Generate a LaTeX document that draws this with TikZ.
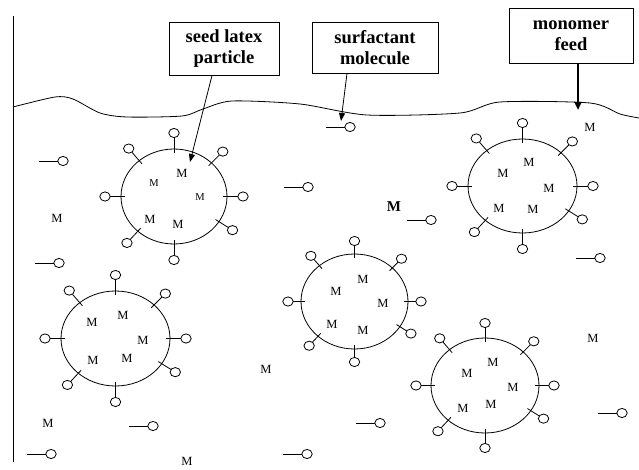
\documentclass[tikz,border=0pt]{standalone}
\usepackage{fontspec}
\setmainfont{Liberation Serif}
\usetikzlibrary{arrows.meta,calc}

% a seed latex particle: outline plus eight surfactant molecules
% #1 centre, #2 x radius, #3 y radius, #4 distance of the heads from the outline
\newcommand{\latexparticle}[4]{%
  \begin{scope}[shift={#1}]
    \draw (0,0) ellipse [x radius=#2, y radius=#3];
    \foreach \a in {90,45,0,-32,-90,-133,180,131}{
      \draw ({(#2-4)*cos(\a)},{-(#3-4)*sin(\a)}) --
            ({(#2+#4-5)*cos(\a)},{-(#3+#4-5)*sin(\a)});
      \draw ({(#2+#4)*cos(\a)},{-(#3+#4)*sin(\a)}) ellipse [x radius=5.2, y radius=4.6];
    }
  \end{scope}}

% a free surfactant molecule, head at (#1,#2), tail to the left
\newcommand{\freesurf}[2]{%
  \draw ({#1-24},{#2}) -- ({#1-5.2},{#2});
  \draw ({#1},{#2}) ellipse [x radius=5.2, y radius=4.6];}

\begin{document}
\begin{tikzpicture}[x=1pt,y=-1pt,line width=0.8pt,
  labelbox/.style={draw, line width=0.9pt, align=center, inner sep=0pt,
    font=\fontsize{18.5}{21.5}\selectfont\bfseries},
  mono/.style={inner sep=0pt, font=\fontsize{12.5}{14}\selectfont},
  monosmall/.style={inner sep=0pt, font=\fontsize{10.5}{12}\selectfont},
  monobold/.style={inner sep=0pt, font=\fontsize{15}{17}\selectfont\bfseries},
  pointer/.style={-{Triangle[length=8pt,width=6pt]}, line width=0.8pt},
  feedarrow/.style={-{Triangle[length=8pt,width=7pt]}, line width=2.3pt}]
\useasboundingbox (0,0) rectangle (639,470);

% reactor wall and liquid surface
\draw (13,16) -- (13,462);
\draw plot[smooth, tension=0.45] coordinates {(13,107) (55,97) (73,99) (100,113)
  (127,117) (182,116) (203,109) (232,101) (300,104) (367,115) (460,113)
  (500,102) (590,103) (620,114) (639,118)};

% labels
\node[labelbox, minimum width=110, minimum height=53] (seed) at (224,48.5) {seed latex\\particle};
\node[labelbox, minimum width=126, minimum height=51] (surf) at (375,47.5) {surfactant\\molecule};
\node[labelbox, minimum width=124, minimum height=55] (feed) at (571,35.5) {monomer\\feed};

\coordinate (seedtip) at (190,162);
\coordinate (surftip) at (341,121);
\coordinate (feedtip) at (578,110);
\draw[pointer] ($(seed.south)+(-12,0)$) -- (seedtip);
\draw[pointer] ($(surf.south)+(-28,0)$) -- (surftip);
\draw[feedarrow] (feedtip |- feed.south) -- (feedtip);

% particles
\latexparticle{(174,196.5)}{53}{47.5}{16}
\latexparticle{(522.5,186)}{54.5}{47}{16}
\latexparticle{(115.5,338.5)}{54.5}{47.5}{16}
\latexparticle{(354.5,301.5)}{53.5}{47.5}{13}
\latexparticle{(485,385.5)}{54}{47.5}{15}

% free surfactant molecules
\freesurf{350}{127}
\freesurf{63}{161}
\freesurf{308}{187}
\freesurf{431}{220}
\freesurf{600}{258}
\freesurf{59}{263}
\freesurf{622}{413}
\freesurf{380}{423}
\freesurf{153}{426}
\freesurf{51}{454}
\freesurf{307}{454}

% free monomer
\node[mono] (fm1) at (590,127) {M};
\node[mono] (fm2) at (57,218) {M};
\node[monobold] (fm3) at (394,207) {M};
\node[mono] (fm4) at (266,369) {M};
\node[mono] (fm5) at (593,338) {M};
\node[mono] (fm6) at (48,423) {M};
\node[mono] (fm7) at (187,461) {M};

% monomer swelling the particles
\node[mono] (pa1) at (182,173) {M};
\node[monosmall] (pa2) at (154,183) {M};
\node[monosmall] (pa3) at (200,197) {M};
\node[mono] (pa4) at (150,219) {M};
\node[mono] (pa5) at (178,224) {M};

\node[mono] (pb1) at (529,162) {M};
\node[mono] (pb2) at (503,173) {M};
\node[mono] (pb3) at (549,188) {M};
\node[mono] (pb4) at (499,208) {M};
\node[mono] (pb5) at (533,209) {M};

\node[mono] (pc1) at (123,315) {M};
\node[mono] (pc2) at (92,322) {M};
\node[mono] (pc3) at (143,340) {M};
\node[mono] (pc4) at (127,358) {M};
\node[mono] (pc5) at (93,360) {M};

\node[mono] (pd1) at (363,279) {M};
\node[mono] (pd2) at (336,291) {M};
\node[mono] (pd3) at (383,303) {M};
\node[mono] (pd4) at (332,324) {M};
\node[mono] (pd5) at (363,330) {M};

\node[mono] (pe1) at (493,362) {M};
\node[mono] (pe2) at (467,373) {M};
\node[mono] (pe3) at (513,387) {M};
\node[mono] (pe4) at (491,404) {M};
\node[mono] (pe5) at (463,408) {M};
\end{tikzpicture}
\end{document}
